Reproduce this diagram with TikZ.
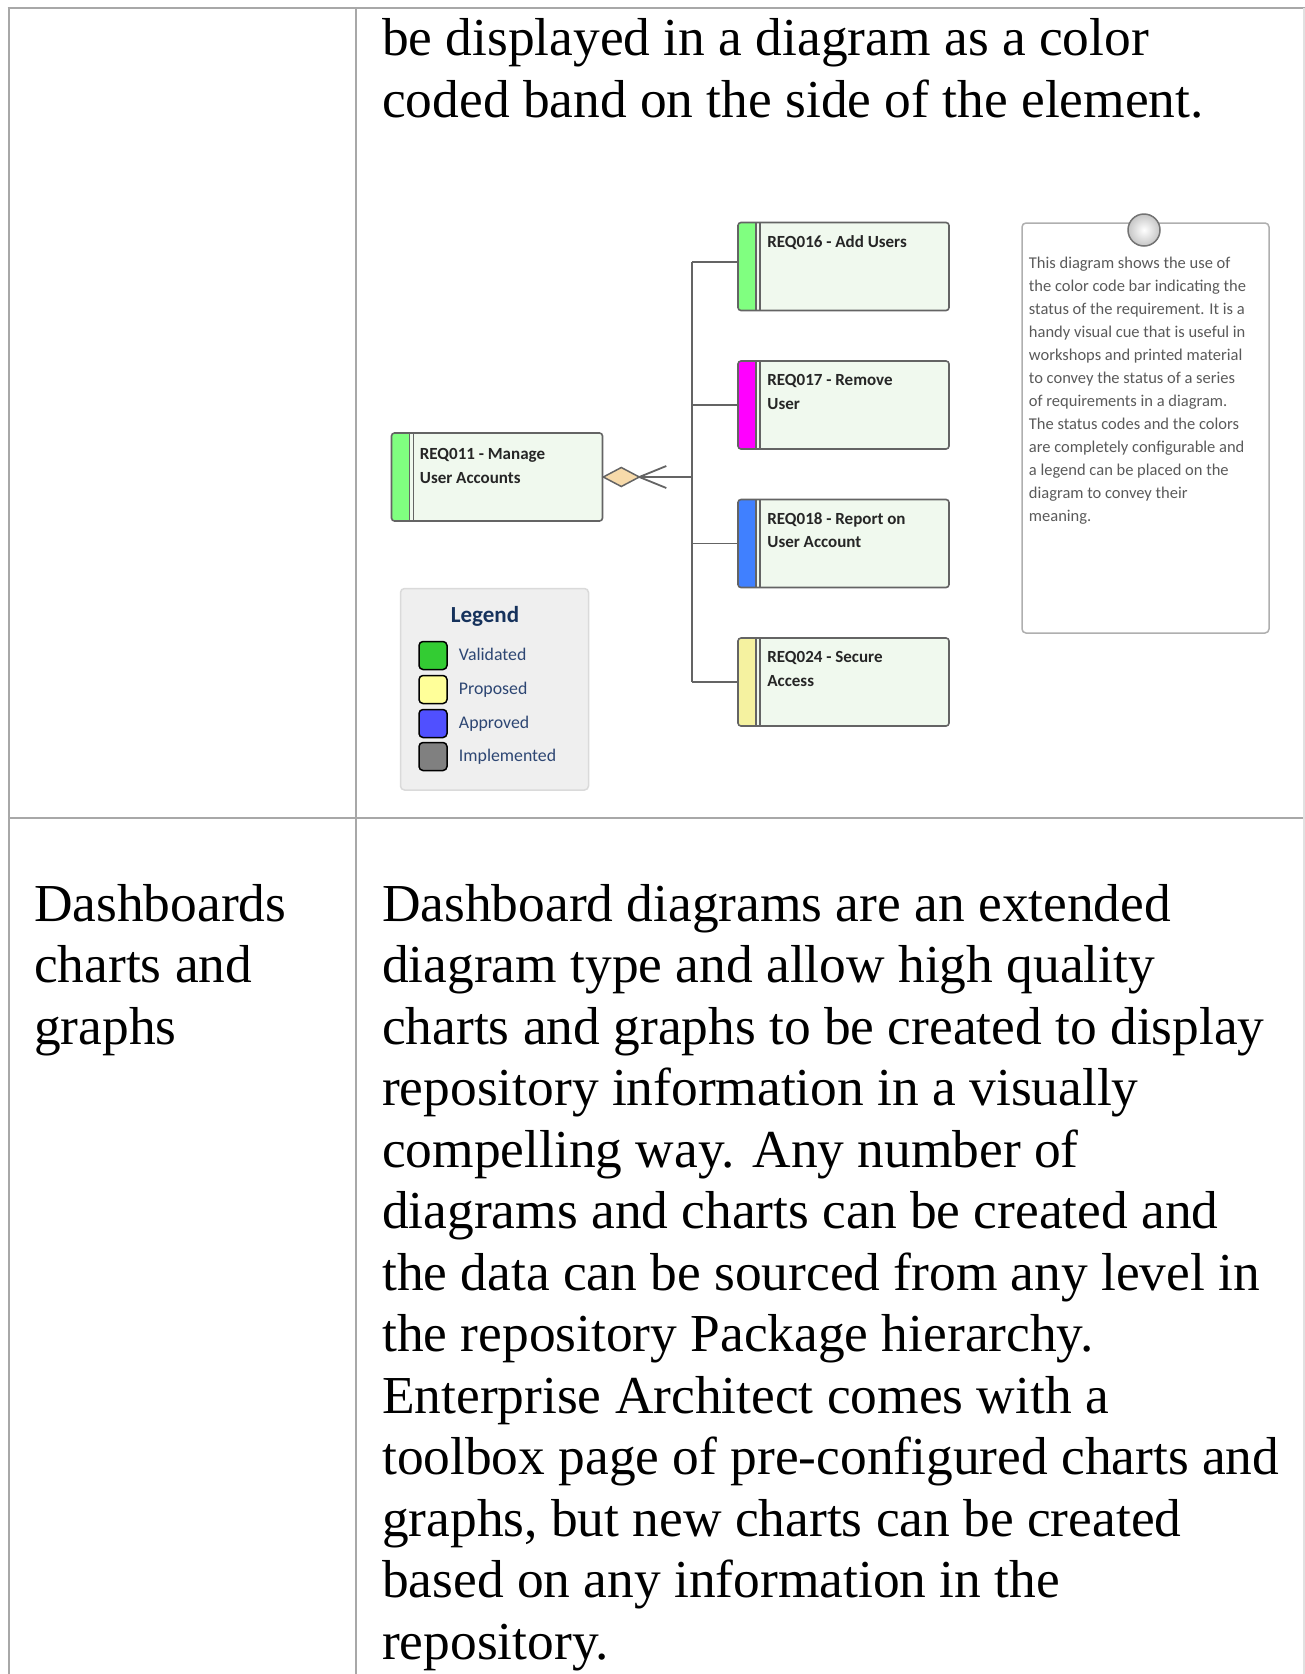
\documentclass[tikz,border=0pt]{standalone}
\usepackage{fontspec}
\setmainfont{Liberation Serif}
\newfontfamily\diagfont{Carlito}
\usetikzlibrary{positioning}

\definecolor{gridgray}{RGB}{168,168,168}
\definecolor{edgegray}{RGB}{225,225,225}
\definecolor{boxfill}{RGB}{240,249,238}
\definecolor{boxline}{RGB}{100,100,100}
\definecolor{bandgreen}{RGB}{128,255,128}
\definecolor{bandmagenta}{RGB}{255,0,255}
\definecolor{bandblue}{RGB}{64,128,255}
\definecolor{bandyellow}{RGB}{245,242,160}
\definecolor{diamondfill}{RGB}{247,218,170}
\definecolor{legendfill}{RGB}{239,239,239}
\definecolor{legendline}{RGB}{218,218,218}
\definecolor{legendnavy}{RGB}{22,50,92}
\definecolor{legendtext}{RGB}{45,70,115}
\definecolor{swgreen}{RGB}{51,204,51}
\definecolor{swyellow}{RGB}{255,255,153}
\definecolor{swblue}{RGB}{80,80,255}
\definecolor{swgray}{RGB}{128,128,128}
\definecolor{notetext}{RGB}{90,90,90}
\definecolor{noteline}{RGB}{175,175,175}

\tikzset{
    gridline/.style={gridgray, line width=2pt},
    bodytext/.style={anchor=north west, inner sep=0pt, align=left, font=\fontsize{53.4}{61.5}\selectfont},
    reqbox/.style={draw=boxline, fill=boxfill, line width=1.6pt, rounded corners=3pt,
        minimum width=211pt, minimum height=88pt, inner sep=0pt,
        path picture={
            \fill[#1] (path picture bounding box.north west) rectangle ([xshift=18pt]path picture bounding box.south west);
            \draw[boxline, line width=1.2pt] ([xshift=18pt]path picture bounding box.north west) -- ([xshift=18pt]path picture bounding box.south west);
            \draw[boxline, line width=1.2pt] ([xshift=22pt]path picture bounding box.north west) -- ([xshift=22pt]path picture bounding box.south west);
        }},
    reqtext/.style={anchor=north west, inner sep=0pt, align=left, text=black!85,
        font=\diagfont\bfseries\fontsize{17}{23.5}\selectfont},
    conn/.style={boxline, line width=1.8pt},
    swatch/.style={draw=black, line width=1.5pt, rounded corners=4pt, minimum size=28pt, inner sep=0pt},
    swlabel/.style={anchor=west, inner sep=0pt, text=legendtext, text height=12pt, text depth=2pt,
        font=\diagfont\fontsize{17.8}{20}\selectfont},
}

\begin{document}
\begin{tikzpicture}[x=1pt, y=-1pt]
    \useasboundingbox (0,0) rectangle (1305,1674);

    % 表格线
    \draw[gridline] (7.5,7.5) -- (1305,7.5);
    \draw[gridline] (8.5,7.5) -- (8.5,1674);
    \draw[gridline] (355.6,7.5) -- (355.6,1674);
    \draw[gridline] (8.5,818) -- (1305,818);
    \draw[edgegray, line width=1.5pt] (1304,7.5) -- (1304,1674);

    % 表格文字
    \node[bodytext] (topcell) at (382,12.5) {\strut be displayed in a diagram as a color\\
        coded band on the side of the element.};
    \node[bodytext] (feature) at (34,877.95) {\strut Dashboards\\charts and\\graphs};
    \node[bodytext] (desc) at (382,877.95) {\strut Dashboard diagrams are an extended\\
        diagram type and allow high quality\\
        charts and graphs to be created to display\\
        repository information in a visually\\
        compelling way. Any number of\\
        diagrams and charts can be created and\\
        the data can be sourced from any level in\\
        the repository Package hierarchy.\\
        Enterprise Architect comes with a\\
        toolbox page of pre-configured charts and\\
        graphs, but new charts can be created\\
        based on any information in the\\
        repository.};

    % 需求框
    \node[reqbox=bandgreen] (r11) at (497,477) {};
    \node[reqbox=bandgreen] (r16) at (843.5,266.5) {};
    \node[reqbox=bandmagenta] (r17) at (843.5,405) {};
    \node[reqbox=bandblue] (r18) at (843.5,543.5) {};
    \node[reqbox=bandyellow] (r24) at (843.5,682) {};

    \node[reqtext, below right=11pt and 29pt of r11.north west] (t11) {\strut REQ011 - Manage\\User Accounts};
    \node[reqtext, below right=9pt and 30pt of r16.north west] (t16) {\strut REQ016 - Add Users};
    \node[reqtext, below right=9pt and 30pt of r17.north west] (t17) {\strut REQ017 - Remove\\User};
    \node[reqtext, below right=9pt and 30pt of r18.north west] (t18) {\strut REQ018 - Report on\\User Account};
    \node[reqtext, below right=9pt and 30pt of r24.north west] (t24) {\strut REQ024 - Secure\\Access};

    % 连线
    \coordinate (hub) at (692,477);
    \coordinate (top16) at ([yshift=4.5pt]r16.west);
    \draw[conn] (r11.east) -- (hub);
    \draw[conn] (hub |- top16) -- (hub |- r24.west);
    \draw[conn] (hub |- top16) -- (top16);
    \draw[conn] (hub |- r17.west) -- (r17.west);
    \draw[conn] (hub |- r18.west) -- (r18.west);
    \draw[conn] (hub |- r24.west) -- (r24.west);
    \filldraw[draw=boxline, fill=diamondfill, line width=1.5pt]
        (r11.east) -- ++(18,-9.5) -- ++(18,9.5) -- ++(-18,9.5) -- cycle;
    \draw[conn] ([xshift=63pt,yshift=11pt]r11.east) -- ([xshift=36pt]r11.east)
        -- ([xshift=63pt,yshift=-11pt]r11.east);

    % 图例
    \node[draw=legendline, fill=legendfill, line width=1.5pt, rounded corners=4pt,
        minimum width=188pt, minimum height=201.5pt] (legend) at (494.5,689.25) {};
    \node[text=legendnavy, font=\diagfont\bfseries\fontsize{23}{26}\selectfont] (legtitle) at (485,616.5) {Legend};
    \node[swatch, fill=swgreen] (swval) at (433,655.5) {};
    \node[swatch, fill=swyellow] (swpro) at (433,689.5) {};
    \node[swatch, fill=swblue] (swapp) at (433,723.5) {};
    \node[swatch, fill=swgray] (swimp) at (433,756.5) {};
    \node[swlabel, right=11pt of swval] (lval) {Validated};
    \node[swlabel, right=11pt of swpro] (lpro) {Proposed};
    \node[swlabel, right=11pt of swapp] (lapp) {Approved};
    \node[swlabel, right=11pt of swimp] (limp) {Implemented};

    % 注释
    \node[draw=noteline, fill=white, line width=1.5pt, rounded corners=4pt,
        minimum width=247pt, minimum height=410pt] (note) at (1145.5,428) {};
    \node[circle, draw=black!55, line width=1.5pt, shade, shading=radial, inner color=white,
        outer color=gray!45, minimum size=32pt, inner sep=0pt] (pin) at (1144,230) {};
    \node[anchor=north west, inner sep=0pt, align=left, text=notetext,
        font=\diagfont\fontsize{16.5}{23}\selectfont, below right=29.5pt and 7.5pt of note.north west] (notebody)
        {\strut This diagram shows the use of\\
        the color code bar indicating the\\
        status of the requirement. It is a\\
        handy visual cue that is useful in\\
        workshops and printed material\\
        to convey the status of a series\\
        of requirements in a diagram.\\
        The status codes and the colors\\
        are completely configurable and\\
        a legend can be placed on the\\
        diagram to convey their\\
        meaning.};
\end{tikzpicture}
\end{document}
